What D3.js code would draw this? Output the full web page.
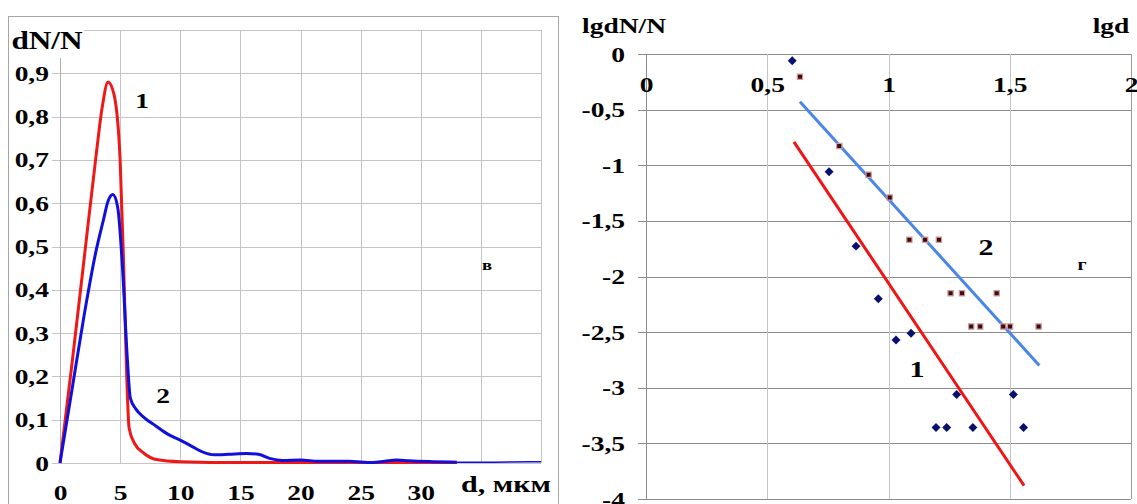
<!DOCTYPE html>
<html>
<head>
<meta charset="utf-8">
<script src="https://cdn.jsdelivr.net/npm/d3@7"></script>
</head>
<body style="margin:0; background:#fff">
<svg width="1137" height="504"></svg>
<script>
// Panel "в": size distribution dN/N against d (мкм)
const curve1 = [[0,0],[1,0.23],[2,0.47],[3,0.71],[3.5,0.82],[4,0.88],[4.5,0.85],[5,0.70],[5.3,0.45],[5.55,0.2],[5.75,0.08],
  [6.2,0.045],[7,0.022],[8,0.008],[10,0.003],[15,0.001],[20,0.001],[33,0.001]];
const curve2 = [[0,0],[1,0.17],[2,0.34],[3,0.49],[3.6,0.56],[4,0.605],[4.4,0.62],[4.8,0.59],[5.2,0.45],[5.6,0.24],[5.85,0.15],
  [6.3,0.125],[7,0.105],[8,0.085],[9,0.066],[10,0.053],[11,0.038],[12,0.024],[12.8,0.019],[14,0.02],[15.5,0.022],[16.5,0.02],
  [17.5,0.01],[18.5,0.006],[20,0.007],[21.5,0.004],[24,0.004],[26,0.001],[27,0.004],[28,0.007],[29,0.005],[31,0.003],[33,0.002],
  [36,0.002],[40,0.003]];
const xTicksLeft = [0, 5, 10, 15, 20, 25, 30];
const yTicksLeft = [0, 0.1, 0.2, 0.3, 0.4, 0.5, 0.6, 0.7, 0.8, 0.9];

// Panel "г": lg dN/N against lg d
const points1 = [[0.603,-0.06],[0.755,-1.058],[0.866,-1.727],[0.958,-2.20],[1.031,-2.57],[1.093,-2.51],[1.281,-3.06],
  [1.196,-3.357],[1.24,-3.357],[1.348,-3.357],[1.515,-3.06],[1.557,-3.357]];
const points2 = [[0.635,-0.204],[0.797,-0.827],[0.918,-1.085],[1.005,-1.29],[1.086,-1.67],[1.151,-1.67],[1.208,-1.67],
  [1.256,-2.15],[1.303,-2.15],[1.446,-2.15],[1.341,-2.45],[1.378,-2.45],[1.473,-2.45],[1.501,-2.45],[1.619,-2.45]];
const fit1 = [[0.61,-0.79],[1.559,-3.88]];
const fit2 = [[0.635,-0.43],[1.622,-2.80]];
const xTicksRight = [0, 0.5, 1, 1.5, 2];
const yTicksRight = [0, -0.5, -1, -1.5, -2, -2.5, -3, -3.5, -4];

const FONT = '"Liberation Serif", "Times New Roman", serif';
const SX = 1.25; // the reference lettering is stretched sideways
const comma = d => String(d).replace(".", ",");
const svg = d3.select("svg");

// bold serif text, stretched horizontally around its anchor point
const label = (x, y, txt, size, anchor = "middle") => svg.append("text")
  .attr("transform", `translate(${x},${y}) scale(${SX},1)`)
  .attr("text-anchor", anchor)
  .style("font-family", FONT).style("font-weight", "bold").style("font-size", size + "px")
  .text(txt);

const styleAxis = (g, size) => {
  g.select(".domain").remove();
  g.selectAll("text")
    .style("font-family", FONT).style("font-weight", "bold").style("font-size", size + "px")
    .attr("fill", "#000")
    .attr("transform", `scale(${SX},1)`);
};

// ---------- left panel ----------
const x1 = d3.scaleLinear().domain([0, 40]).range([60, 541]);
const y1 = d3.scaleLinear().domain([0, 1]).range([463, 30]);

svg.append("rect").attr("x", 8.5).attr("y", 16.5).attr("width", 550).attr("height", 500)
  .attr("fill", "none").attr("stroke", "#a6a6a6");

const gl = svg.append("g");
gl.selectAll(".hl").data(d3.range(0, 11).map(i => i / 10)).join("line")
  .attr("x1", 52).attr("x2", x1(40))
  .attr("y1", d => Math.round(y1(d)) + 0.5).attr("y2", d => Math.round(y1(d)) + 0.5)
  .attr("stroke", "#c4c4c4");
gl.selectAll(".vl").data(d3.range(5, 41, 5)).join("line")
  .attr("x1", d => Math.round(x1(d)) + 0.5).attr("x2", d => Math.round(x1(d)) + 0.5)
  .attr("y1", y1(1)).attr("y2", y1(0))
  .attr("stroke", "#c4c4c4");
gl.append("line").attr("x1", 60.5).attr("x2", 60.5).attr("y1", 58).attr("y2", y1(0)).attr("stroke", "#b0b0b0");

svg.append("g").attr("transform", "translate(49,0)")
  .call(d3.axisLeft(y1).tickValues(yTicksLeft).tickSize(0).tickPadding(0).tickFormat(comma))
  .call(g => styleAxis(g, 22));

svg.append("g").attr("transform", "translate(0,484)")
  .call(d3.axisBottom(x1).tickValues(xTicksLeft).tickSize(0).tickPadding(0))
  .call(g => styleAxis(g, 22));

const line1 = d3.line().x(d => x1(d[0])).y(d => y1(d[1])).curve(d3.curveMonotoneX);
svg.append("path").attr("d", line1(curve1)).attr("fill", "none").attr("stroke", "#ee1818").attr("stroke-width", 3);
svg.append("path").attr("d", line1(curve2.filter(d => d[0] <= 33))).attr("fill", "none")
  .attr("stroke", "#1010dc").attr("stroke-width", 3);
svg.append("path").attr("d", line1(curve2.filter(d => d[0] >= 33))).attr("fill", "none")
  .attr("stroke", "#1010dc").attr("stroke-width", 1.5);

svg.append("rect").attr("x", 12).attr("y", 20).attr("width", 72).attr("height", 34).attr("fill", "#fff");
label(47, 49, "dN/N", 25);
label(506, 492, "d, мкм", 24);
label(142, 108, "1", 22);
label(163, 403, "2", 22);
label(487, 270, "в", 15);

// ---------- right panel ----------
const x2 = d3.scaleLinear().domain([0, 2]).range([646, 1131]);
const y2 = d3.scaleLinear().domain([-4, 0]).range([499, 54]);

const gr = svg.append("g");
gr.selectAll("line.h").data(yTicksRight).join("line")
  .attr("x1", 638).attr("x2", x2(2))
  .attr("y1", d => Math.round(y2(d)) + 0.5).attr("y2", d => Math.round(y2(d)) + 0.5)
  .attr("stroke", "#8c8c8c");
gr.selectAll("line.v").data(xTicksRight.slice(1)).join("line")
  .attr("x1", d => Math.round(x2(d)) + 0.5).attr("x2", d => Math.round(x2(d)) + 0.5)
  .attr("y1", y2(0)).attr("y2", y2(-4))
  .attr("stroke", d => d === 2 ? "#9a9a9a" : "#c4c4c4");
gr.append("line").attr("x1", 646.5).attr("x2", 646.5).attr("y1", y2(0)).attr("y2", y2(-4)).attr("stroke", "#8c8c8c");

svg.append("g").attr("transform", "translate(625,0)")
  .call(d3.axisLeft(y2).tickValues(yTicksRight).tickSize(0).tickPadding(0).tickFormat(comma))
  .call(g => styleAxis(g, 22));

svg.append("g").attr("transform", "translate(0,76)")
  .call(d3.axisBottom(x2).tickValues(xTicksRight).tickSize(0).tickPadding(0).tickFormat(comma))
  .call(g => styleAxis(g, 22));

const line2 = d3.line().x(d => x2(d[0])).y(d => y2(d[1]));
svg.append("path").attr("d", line2(fit1)).attr("fill", "none").attr("stroke", "#f01414").attr("stroke-width", 3);
svg.append("path").attr("d", line2(fit2)).attr("fill", "none").attr("stroke", "#4a86e8").attr("stroke-width", 3);

svg.selectAll("path.p1").data(points1).join("path").attr("class", "p1")
  .attr("d", d3.symbol(d3.symbolSquare, 40))
  .attr("transform", d => `translate(${x2(d[0])},${y2(d[1])}) rotate(45)`)
  .attr("fill", "#08106e");
svg.selectAll("path.p2").data(points2).join("path").attr("class", "p2")
  .attr("d", d3.symbol(d3.symbolSquare, 28))
  .attr("transform", d => `translate(${x2(d[0])},${y2(d[1])})`)
  .attr("fill", "#3b0d0d").attr("stroke", "#d29a9a").attr("stroke-width", 1.2);

label(624, 33, "lgdN/N", 22);
label(1111, 33, "lgd", 22);
label(917, 377, "1", 24);
label(986, 255, "2", 24);
label(1082, 270, "г", 16);
</script>
</body>
</html>
